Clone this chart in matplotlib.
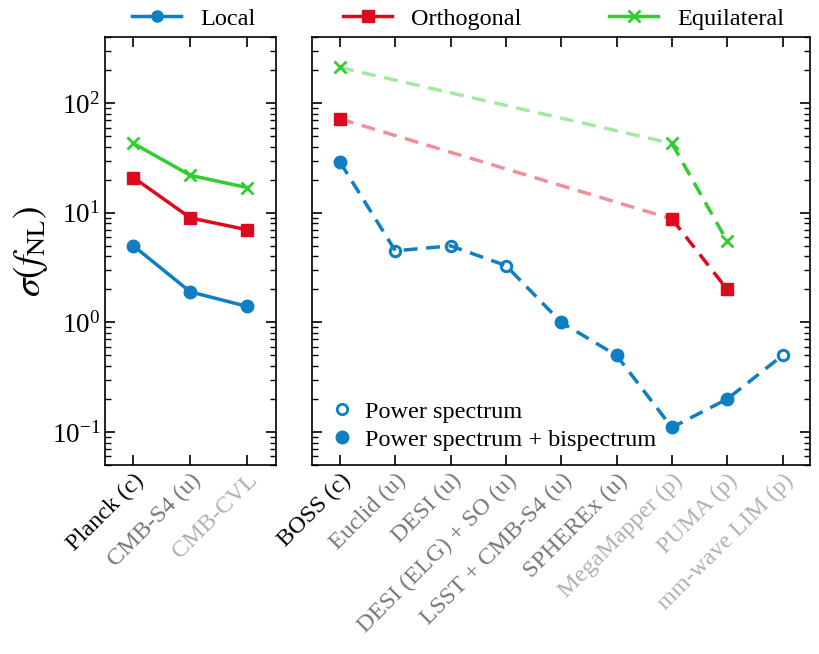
import matplotlib.pyplot as plt
from matplotlib.lines import Line2D
from matplotlib.ticker import LogLocator, NullFormatter

plt.rcParams['font.family'] = ['Liberation Serif', 'DejaVu Serif']
plt.rcParams['mathtext.fontset'] = 'stix'

# CMB experiments (left panel)
cmb_names = ['Planck (c)', 'CMB-S4 (u)', 'CMB-CVL']
cmb_colors = ['black', '#777777', '#b0b0b0']
cmb_local = [5.0, 1.9, 1.4]
cmb_orth = [21, 9.0, 7.0]
cmb_equil = [43, 22, 17]

# LSS experiments (right panel)
lss_names = ['BOSS (c)', 'Euclid (u)', 'DESI (u)', 'DESI (ELG) + SO (u)',
             'LSST + CMB-S4 (u)', 'SPHEREx (u)', 'MegaMapper (p)', 'PUMA (p)',
             'mm-wave LIM (p)']
lss_colors = ['black', '#777777', '#777777', '#777777', '#777777', '#777777',
              '#b0b0b0', '#b0b0b0', '#b0b0b0']
lss_local = [29, 4.5, 5.0, 3.3, 1.0, 0.5, 0.11, 0.2, 0.5]
lss_local_bispec = [True, False, False, False, True, True, True, True, False]
# orthogonal / equilateral only for BOSS, MegaMapper, PUMA
lss_ng_idx = [0, 6, 7]
lss_orth = [72, 8.8, 2.0]
lss_equil = [212, 43, 5.5]

BLUE = '#0f7ec2'
RED = '#dd0a1e'
GREEN = '#33cc33'
FS = 17.5

fig, (ax1, ax2) = plt.subplots(
    1, 2, figsize=(8.2, 6.54), dpi=100, sharey=True,
    gridspec_kw={'width_ratios': [3, 8.75], 'wspace': 0.11},
)
fig.subplots_adjust(left=0.128, right=0.988, top=0.943, bottom=0.289)

x1 = range(len(cmb_names))
ax1.plot(x1, cmb_local, '-o', color=BLUE, lw=2.5, ms=9)
ax1.plot(x1, cmb_orth, '-s', color=RED, lw=2.5, ms=9)
ax1.plot(x1, cmb_equil, '-x', color=GREEN, lw=2.5, ms=9, mew=2)

x2 = list(range(len(lss_names)))
ax2.plot(x2, lss_local, '--', color=BLUE, lw=2.5, dashes=(4, 2.5))
for xi, v, bis in zip(x2, lss_local, lss_local_bispec):
    if bis:
        ax2.plot(xi, v, 'o', color=BLUE, ms=9)
    else:
        ax2.plot(xi, v, 'o', color=BLUE, ms=7.5, mfc='none', mew=2.2, zorder=1)

for vals, col, mk, kw in [(lss_orth, RED, 's', {}), (lss_equil, GREEN, 'x', {'mew': 2})]:
    xs = [x2[i] for i in lss_ng_idx]
    ax2.plot(xs[:2], vals[:2], '--', color=col, lw=2.5, alpha=0.45, dashes=(4, 2.5))
    ax2.plot(xs[1:], vals[1:], '--', color=col, lw=2.5, dashes=(4, 2.5))
    ax2.plot(xs, vals, mk, color=col, ms=9, ls='none', **kw)

for ax, names, cols in [(ax1, cmb_names, cmb_colors), (ax2, lss_names, lss_colors)]:
    ax.set_yscale('log')
    ax.set_ylim(0.05, 400)
    ax.set_xlim(-0.5, len(names) - 0.5)
    ax.set_xticks(range(len(names)))
    ax.set_xticklabels(names, rotation=45, ha='right', rotation_mode='anchor', fontsize=FS)
    for lab, c in zip(ax.get_xticklabels(), cols):
        lab.set_color(c)
    ax.yaxis.set_major_locator(LogLocator(base=10, numticks=10))
    ax.yaxis.set_minor_locator(LogLocator(base=10, subs=range(2, 10), numticks=10))
    ax.yaxis.set_minor_formatter(NullFormatter())
    ax.tick_params(which='both', direction='in', top=True, right=True, labelsize=FS)
    ax.tick_params(axis='y', labelsize=19.5)
    ax.tick_params(which='major', length=7, width=1.2)
    ax.tick_params(which='minor', length=4, width=1)
    ax.tick_params(axis='x', which='minor', top=False, bottom=False)
    for sp in ax.spines.values():
        sp.set_linewidth(1.2)

ax2.tick_params(labelleft=False)
ax1.set_ylabel(r'$\sigma(f_{\rm NL})$', fontsize=27, labelpad=1)

top_handles = [
    Line2D([], [], color=BLUE, marker='o', lw=2.5, ms=8),
    Line2D([], [], color=RED, marker='s', lw=2.5, ms=8),
    Line2D([], [], color=GREEN, marker='x', lw=2.5, ms=8, mew=2),
]
fig.legend(top_handles, ['Local', 'Orthogonal', 'Equilateral'], ncol=3,
           loc='center', bbox_to_anchor=(0.559, 0.971), frameon=False,
           fontsize=FS, columnspacing=3.6, handlelength=2.0)

spec_handles = [
    Line2D([], [], color=BLUE, marker='o', ls='none', ms=7.5, mfc='none', mew=2),
    Line2D([], [], color=BLUE, marker='o', ls='none', ms=9),
]
ax2.legend(spec_handles, ['Power spectrum', 'Power spectrum + bispectrum'],
           loc='lower left', bbox_to_anchor=(0.01, 0.01), borderaxespad=0,
           frameon=False, fontsize=FS, handlelength=1.2, handletextpad=0.35,
           labelspacing=0.25)

plt.savefig('out.png')
